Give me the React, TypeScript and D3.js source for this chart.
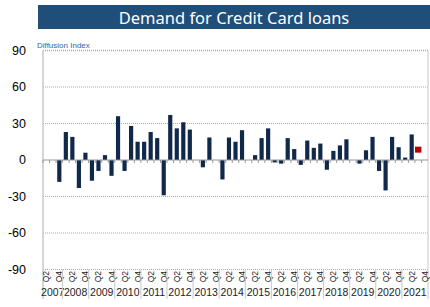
import React from 'react';
import * as d3 from 'd3';

// quarterly diffusion index, 2007 Q2 .. 2021 Q4 (null = no bar)
const years = [2007, 2008, 2009, 2010, 2011, 2012, 2013, 2014, 2015, 2016, 2017, 2018, 2019, 2020, 2021];
const firstQuarter = 2; // series starts at 2007 Q2
const actual = [
  null, null, -18,
  23, 19, -23, 6,
  -17, -9, 4, -13,
  36, -9, 28, 15,
  15, 23, 18, -29,
  37, 26, 31, 25,
  0, -6, 18.5, 0,
  -16, 18.5, 15, 24.5,
  0, 4, 18, 26,
  -2, -3, 18, 9,
  -4, 16, 10, 13.5,
  -8, 7.5, 12, 17,
  0, -3, 8, 19,
  -9, -25, 19, 10.5,
  2, 21, null, null,
];
const expected = { index: 57, value: 8.5 };
const yTicks = [90, 60, 30, 0, -30, -60, -90];
const title = 'Demand for Credit Card loans';
const yTitle = 'Diffusion Index';

const categories: { year: number; q: number }[] = [];
years.forEach((y, yi) => {
  for (let q = yi === 0 ? firstQuarter : 1; q <= 4; q++) categories.push({ year: y, q });
});

const W = 430, H = 307;
const left = 43, right = 428, top = 50.5, bottom = 269.5;

const App = () => {
  const x = d3.scaleBand<number>()
    .domain(categories.map((_, i) => i))
    .range([left, right])
    .paddingInner(0.36)
    .paddingOuter(0.18);
  const y = d3.scaleLinear().domain([-90, 90]).range([bottom, top]);
  const step = x.step();
  const edge = (i: number) => x(i)! - (step - x.bandwidth()) / 2;
  const y0 = y(0);

  const yearStarts = categories
    .map((c, i) => ({ ...c, i }))
    .filter((c, i) => i === 0 || c.q === 1);

  return (
    <svg width={W} height={H} style={{ position: 'fixed', left: 0, top: 0, background: '#fff' }}>
      {/* title band */}
      <rect x={38} y={5} width={392} height={24} fill="#1f4e79" />
      <text x={234} y={17.5} fill="#fff" textAnchor="middle" dominantBaseline="central"
        fontFamily="Noto Sans" fontSize={16.5}>{title}</text>
      <text x={37} y={48} fill="#3b64a0" fontFamily="Liberation Sans" fontSize={8}>{yTitle}</text>

      {/* grid */}
      {yTicks.filter(t => t !== 0).map(t => (
        <line key={t} x1={left} x2={right} y1={y(t)} y2={y(t)}
          stroke="#a9a9a9" strokeDasharray="1,1" strokeWidth={t === 90 ? 1.5 : 1} />
      ))}
      {yTicks.map(t => (
        <text key={t} x={26} y={y(t)} textAnchor="end" dominantBaseline="central"
          fontFamily="Liberation Sans" fontSize={12.5} fill="#000">{t}</text>
      ))}

      {/* frame */}
      <line x1={left} x2={left} y1={top} y2={299} stroke="#c8c8c8" strokeWidth={1.5} />
      <line x1={right} x2={right} y1={top} y2={299} stroke="#c8c8c8" strokeWidth={1} />

      {/* bars */}
      {actual.map((v, i) => v == null || v === 0 ? null : (
        <rect key={i} x={x(i)} width={x.bandwidth()} y={Math.min(y(v), y0)}
          height={Math.abs(y(v) - y0)} fill="#10284a" />
      ))}
      <rect x={x(expected.index)! + x.bandwidth() / 2 - 3.2} y={y(expected.value) - 3}
        width={6.4} height={6} fill="#c00000" />

      {/* zero axis with ticks */}
      <line x1={left} x2={right} y1={y0} y2={y0} stroke="#999" strokeWidth={1} />
      {categories.map((_, i) => (
        <line key={i} x1={edge(i)} x2={edge(i)} y1={y0} y2={y0 + 3} stroke="#999" />
      ))}

      {/* category labels */}
      {categories.map((c, i) => (c.q === 2 || c.q === 4) ? (
        <text key={i} transform={`translate(${x(i)! + x.bandwidth() / 2},${bottom + 1.5}) rotate(-90)`}
          textAnchor="end" dominantBaseline="central" fontFamily="Liberation Sans" fontSize={8.5} fill="#222">
          {'Q' + c.q}
        </text>
      ) : null)}
      {yearStarts.map((c, k) => {
        const x0 = edge(c.i);
        const x1 = k < yearStarts.length - 1 ? edge(yearStarts[k + 1].i) : right;
        return (
          <g key={c.year}>
            {k > 0 && <line x1={x0} x2={x0} y1={bottom} y2={299} stroke="#c8c8c8" />}
            <text x={(x0 + x1) / 2} y={296} textAnchor="middle" fontFamily="Liberation Sans"
              fontSize={10.5} fill="#222">{c.year}</text>
          </g>
        );
      })}
    </svg>
  );
};

export default App;
